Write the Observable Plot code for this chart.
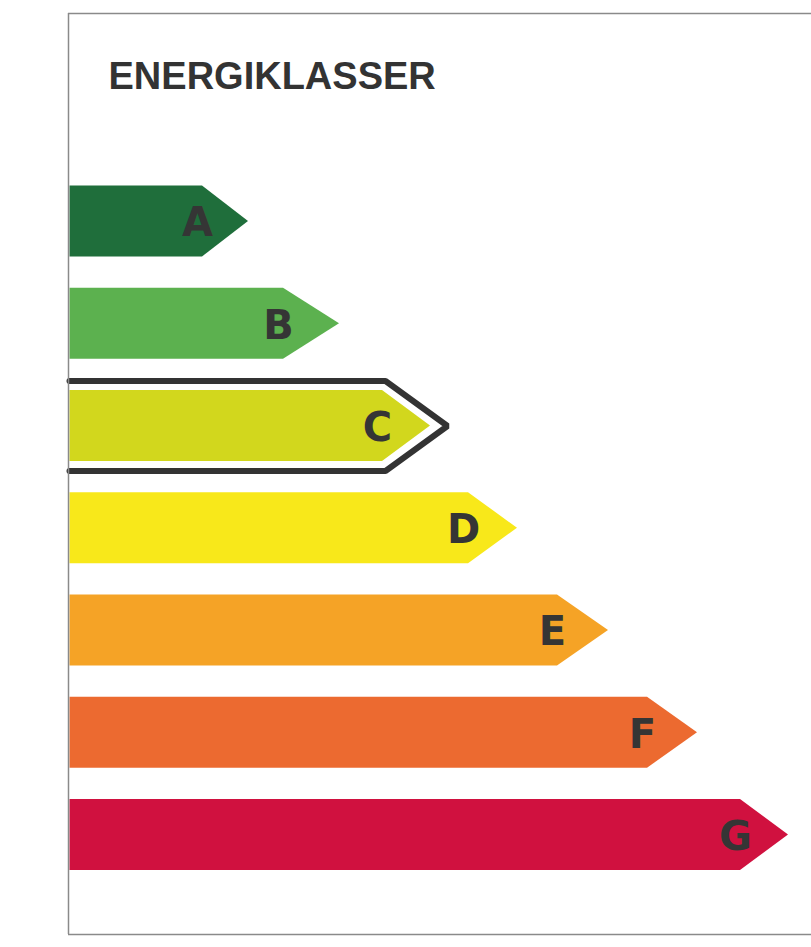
<!DOCTYPE html>
<html>
<head>
<meta charset="utf-8">
<script src="https://cdn.jsdelivr.net/npm/d3@7"></script>
<script src="https://cdn.jsdelivr.net/npm/@observablehq/plot@0.6"></script>
<style>
  html, body { margin: 0; padding: 0; background: #fff; }
  #chart svg { display: block; }
</style>
</head>
<body>
<div id="chart"></div>
<script>
// ---- data ----
const title = "ENERGIKLASSER";
const classes = ["A", "B", "C", "D", "E", "F", "G"];
// length of the bar body and of the arrow tip (units from the left edge)
const bodyEnds = [134, 215, 314, 400, 489, 579, 672];
const tipEnds  = [180, 271, 362, 449, 540, 629, 720];
const colors = ["#1f6e3b", "#5cb14f", "#d2d71d", "#f8e81a", "#f5a326", "#ec6a30", "#d0113f"];
const highlighted = "C";

// ---- build rows ----
const yDomain = [-2.034, 6.973];
const half = 0.347;   // half bar thickness (in row units)
const pts = [];
classes.forEach((c, i) => {
  pts.push({cls: c, y: i - half, x: bodyEnds[i], color: colors[i]});
  pts.push({cls: c, y: i,        x: tipEnds[i],  color: colors[i]});
  pts.push({cls: c, y: i + half, x: bodyEnds[i], color: colors[i]});
});
const hi = classes.indexOf(highlighted);
const outHalf = half + 0.093;
const outline = [
  {y: hi - outHalf, x: bodyEnds[hi] + 3},
  {y: hi,           x: tipEnds[hi] + 17},
  {y: hi + outHalf, x: bodyEnds[hi] + 3}
];
const outlinePath = [{y: hi - outHalf, x: 1}, ...outline, {y: hi + outHalf, x: 1}];
const labels = classes.map((c, i) => ({cls: c, y: i, x: bodyEnds[i]}));

const chart = Plot.plot({
  width: 811,
  height: 947,
  marginLeft: 68,
  marginTop: 13,
  marginBottom: 13,
  marginRight: 0,
  style: {background: "#fff"},
  x: {domain: [0, 743], axis: null},
  y: {domain: yDomain, reverse: true, axis: null},
  color: {type: "identity"},
  marks: [
    Plot.areaX(outline, {y: "y", x1: 0, x2: "x", fill: "#fff"}),
    Plot.line(outlinePath, {x: "x", y: "y", stroke: "#333", strokeWidth: 6, strokeLinejoin: "miter", curve: "linear"}),
    Plot.areaX(pts, {y: "y", x1: 1.5, x2: "x", z: "cls", fill: "color"}),
    Plot.ruleX([0], {stroke: "#8a8a8a", strokeWidth: 1.5}),
    Plot.ruleY(yDomain, {stroke: "#8a8a8a", strokeWidth: 1.5}),
    Plot.text(labels, {
      x: "x", y: "y", text: "cls", dx: -5, dy: 2,
      textAnchor: "middle", lineAnchor: "middle",
      fontFamily: "DejaVu Sans", fontWeight: "bold", fontSize: 40, fill: "#353535"
    }),
    Plot.text([title], {
      frameAnchor: "top-left", dx: 40, dy: 75, lineAnchor: "bottom", textAnchor: "start",
      fontFamily: "Liberation Sans, Arial, sans-serif", fontWeight: "bold", fontSize: 38, fill: "#333"
    })
  ]
});
document.getElementById("chart").append(chart);
</script>
</body>
</html>
